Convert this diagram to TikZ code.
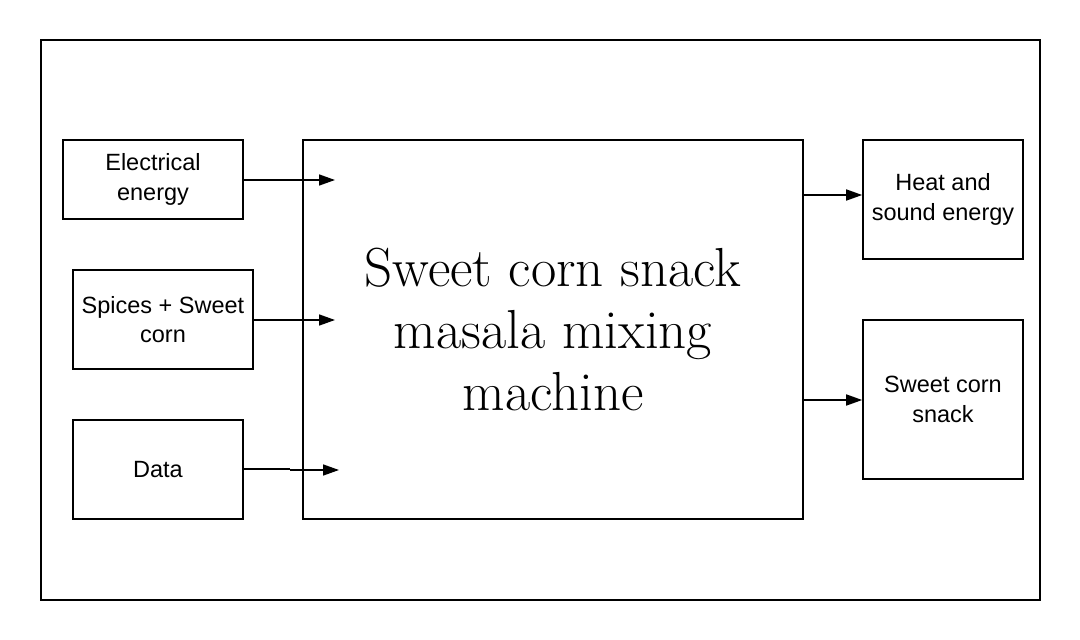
\documentclass[tikz,border=0pt]{standalone}
\usepackage{fontspec}
\setmainfont{Liberation Sans}
\newfontfamily\bigfont{Latin Modern Roman}
\usetikzlibrary{arrows.meta}
\begin{document}
\begin{tikzpicture}[x=1pt,y=-1pt,
  box/.style={draw,line width=1.6pt,inner sep=0pt,align=center,font=\fontsize{23.5}{29.5}\selectfont},
  arr/.style={line width=1.6pt,-{Triangle[length=16pt,width=11pt]}}]
\useasboundingbox (0,0) rectangle (1080,640);
\draw[line width=1.6pt] (41,40) rectangle (1040,600);
\node[box,minimum width=180pt,minimum height=79pt] (elec) at (153,179.5) {Electrical\\energy};
\node[box,minimum width=180pt,minimum height=99pt] (spice) at (163,319.5) {Spices + Sweet\\corn};
\node[box,minimum width=170pt,minimum height=99pt] (data) at (158,469.5) {Data};
\node[box,minimum width=500pt,minimum height=379pt,font=\bigfont\fontsize{55}{62}\selectfont] (main) at (553,329.5) {Sweet corn snack\\masala mixing\\machine};
\node[box,minimum width=160pt,minimum height=119pt] (heat) at (943,199.5) {Heat and\\sound energy};
\node[box,minimum width=160pt,minimum height=159pt] (snack) at (943,399.5) {Sweet corn\\snack};
\coordinate (e1) at (335,180);
\coordinate (s1) at (335,320);
\coordinate (d1) at (290,469);
\coordinate (d2) at (339,470);
\draw[arr] (elec.east |- 0,180) -- (e1);
\draw[arr] (spice.east |- 0,320) -- (s1);
\draw[line width=1.6pt] (data.east |- 0,469) -- (d1);
\draw[arr] (d1 |- d2) -- (d2);
\draw[arr] (main.east |- 0,195) -- (heat.west |- 0,195);
\draw[arr] (main.east |- 0,400) -- (snack.west |- 0,400);
\end{tikzpicture}
\end{document}
